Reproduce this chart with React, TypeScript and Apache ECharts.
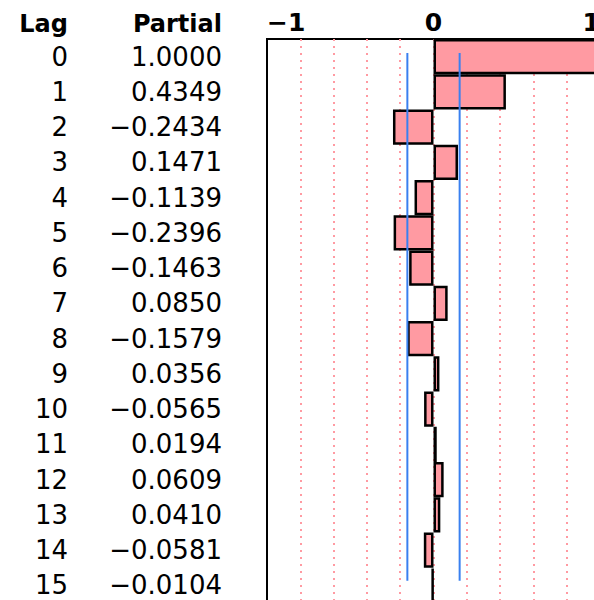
import React, { useEffect, useRef } from "react";
import * as echarts from "echarts";

const LAGS: string[] = ["0", "1", "2", "3", "4", "5", "6", "7", "8", "9", "10", "11", "12", "13", "14", "15"];
const PARTIALS: number[] = [
  1.0, 0.4349, -0.2434, 0.1471, -0.1139, -0.2396, -0.1463, 0.085, -0.1579, 0.0356, -0.0565, 0.0194, 0.0609, 0.041,
  -0.0581, -0.0104,
];
const X_TICK_LABELS: { [k: string]: string } = { "-1": "\u22121", "0": "0", "1": "1" };
const CONF_LIMIT = 0.157;
const CONF_ROW_START = 0.4;
const CONF_ROW_END = 15.37;

const fmt = (v: number) => (v < 0 ? "\u2212" + Math.abs(v).toFixed(4) : v.toFixed(4));

export default function App() {
  const ref = useRef<HTMLDivElement>(null);
  useEffect(() => {
    if (!ref.current) return;
    const chart = echarts.init(ref.current, undefined, { renderer: "svg" });
    const font = "DejaVu Sans";
    const gridLeft = 267;
    const gridTop = 39;
    chart.setOption({
      animation: false,
      backgroundColor: "#ffffff",
      textStyle: { fontFamily: font },
      grid: {
        left: gridLeft,
        top: gridTop,
        width: 333,
        height: 564,
        show: true,
        borderColor: "#000",
        borderWidth: 2,
        backgroundColor: "#fff",
        containLabel: false,
        outerBoundsMode: "none",
      },
      graphic: [
        {
          type: "text",
          x: 68,
          y: 24,
          style: { text: "Lag", font: `bold 24px ${font}`, fill: "#000", textAlign: "right", textVerticalAlign: "middle" },
        },
        {
          type: "text",
          x: 222,
          y: 24,
          style: {
            text: "Partial",
            font: `bold 24px ${font}`,
            fill: "#000",
            textAlign: "right",
            textVerticalAlign: "middle",
          },
        },
      ],
      xAxis: {
        type: "value",
        position: "top",
        min: -1,
        max: 1,
        interval: 0.2,
        axisLine: { show: false },
        axisTick: { show: false },
        axisLabel: {
          show: true,
          margin: 4,
          fontSize: 25,
          fontWeight: "bold",
          color: "#000",
          fontFamily: font,
          alignMinLabel: "left",
          alignMaxLabel: "right",
          showMinLabel: true,
          showMaxLabel: true,
          formatter: (v: number) => {
            const r = Math.round(v * 1000) / 1000;
            const key = String(r === 0 ? 0 : r);
            return X_TICK_LABELS[key] ?? "";
          },
        },
        splitLine: {
          show: true,
          showMinLine: false,
          showMaxLine: false,
          lineStyle: { color: "#ff9aa2", width: 2, type: [2, 5] },
        },
      },
      yAxis: [
        {
          type: "category",
          inverse: true,
          data: LAGS,
          axisLine: { show: false },
          axisTick: { show: false },
          splitLine: { show: false },
          axisLabel: {
            margin: 45,
            interval: 0,
            formatter: (value: string, idx: number) => `{a|${value}}{b|${fmt(PARTIALS[idx])}}`,
            rich: {
              a: { width: 60, align: "right", fontSize: 26, color: "#000", fontFamily: font },
              b: { width: 154, align: "right", fontSize: 26, color: "#000", fontFamily: font },
            },
          },
        },
        {
          type: "value",
          inverse: true,
          min: 0,
          max: 16,
          show: false,
        },
      ],
      series: [
        {
          type: "bar",
          data: PARTIALS,
          barWidth: "100%",
          barCategoryGap: 0,
          itemStyle: { color: "#ff9aa2", borderColor: "#000", borderWidth: 2.5 },
          emphasis: { disabled: true },
          z: 2,
        },
        {
          type: "line",
          yAxisIndex: 1,
          data: [
            [CONF_LIMIT, CONF_ROW_START],
            [CONF_LIMIT, CONF_ROW_END],
          ],
          symbol: "none",
          lineStyle: { color: "#3a80f0", width: 2 },
          z: 5,
          silent: true,
        },
        {
          type: "line",
          yAxisIndex: 1,
          data: [
            [-CONF_LIMIT, CONF_ROW_START],
            [-CONF_LIMIT, CONF_ROW_END],
          ],
          symbol: "none",
          lineStyle: { color: "#3a80f0", width: 2 },
          z: 5,
          silent: true,
        },
      ],
    });
    return () => chart.dispose();
  }, []);
  return <div ref={ref} style={{ position: "absolute", left: 0, top: 0, width: 594, height: 600 }} />;
}
